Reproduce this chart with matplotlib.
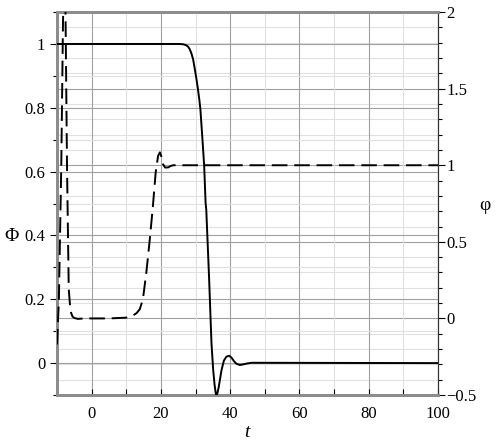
import matplotlib
matplotlib.use("Agg")
import matplotlib.pyplot as plt
from matplotlib.ticker import MultipleLocator, FuncFormatter
from matplotlib.transforms import blended_transform_factory

# Phi(t), left axis (solid)
t_Phi = [-10, 20, 25.4, 26.5, 27.3, 27.9, 28.3, 28.8, 29.3, 29.8, 30.3, 30.7,
         31.1, 31.4, 32.0, 32.5, 32.9, 33.1, 33.9, 34.6, 35.1, 35.5, 35.8,
         36.0, 36.3, 36.7, 37.5, 38.2, 38.9, 39.7, 40.4, 41.1, 41.8, 42.8,
         43.8, 45.0, 46.2, 100]
Phi = [1, 1, 1, 0.999, 0.996, 0.991, 0.984, 0.971, 0.952, 0.921, 0.888, 0.858,
       0.825, 0.796, 0.701, 0.617, 0.503, 0.481, 0.271, 0.063, -0.022,
       -0.068, -0.092, -0.1, -0.095, -0.075, -0.022, 0.008, 0.02, 0.023,
       0.017, 0.006, -0.002, -0.006, -0.004, -0.001, 0.001, 0]

# phi(t), right axis (dashed)
t_phi = [-10, -9.45, -8.76, -8.3, -7.8, -7.1, -6.6, -6.2, -5.9, -5.5, -5.0,
         -4.0, -2, 5, 10, 11, 12, 13, 13.9, 14.8, 15.8, 16.8, 17.7, 18.5,
         19.2, 19.7, 20.1, 20.6, 21.2, 22.1, 22.8, 23.5, 100]
phi = [-0.17, 0.12, 0.995, 1.87, 2.6, 0.99, 0.19, 0.075, 0.035, 0.012, 0.003,
       -0.003, 0.0, 0.0, 0.005, 0.01, 0.02, 0.035, 0.06, 0.124, 0.30, 0.517,
       0.735, 0.955, 1.062, 1.084, 1.06, 1.008, 0.985, 0.986, 0.995, 1.0,
       1.0]

plt.rcParams['font.family'] = ['Liberation Serif', 'DejaVu Serif']

fig = plt.figure(figsize=(5.02, 4.47), dpi=100)
ax = fig.add_axes([0.1135, 0.1163, 0.759, 0.8567])
ax2 = ax.twinx()
ax.set_zorder(ax2.get_zorder() + 1)
ax.patch.set_visible(False)

ax.set_xlim(-10, 100)
ax.set_ylim(-0.1, 1.1)
ax2.set_ylim(-0.5, 2)

ax.xaxis.set_major_locator(MultipleLocator(20))
ax.xaxis.set_minor_locator(MultipleLocator(10))
ax.yaxis.set_major_locator(MultipleLocator(0.2))
ax.yaxis.set_minor_locator(MultipleLocator(0.1))
ax2.yaxis.set_major_locator(MultipleLocator(0.5))
ax2.yaxis.set_minor_locator(MultipleLocator(0.1))

fmt = FuncFormatter(lambda v, p: ('%g' % round(v, 3)).replace('-', '\u2212'))
ax.xaxis.set_major_formatter(fmt)
ax.yaxis.set_major_formatter(fmt)
ax2.yaxis.set_major_formatter(fmt)

major_c = '#a0a0a0'
minor_c = '#e0e0e0'
for a in (ax, ax2):
    a.grid(True, which='major', color=major_c, lw=0.8)
    a.grid(True, which='minor', color=minor_c, lw=0.8)
ax2.grid(False, axis='x', which='both')

ax.plot(t_Phi, Phi, color='black', lw=1.4, zorder=3)
tr = blended_transform_factory(ax.transData, ax2.transData)
ax.plot(t_phi, phi, color='black', lw=1.4, dashes=(8, 3.5), transform=tr,
        zorder=3)

for a in (ax, ax2):
    for s in ('left', 'bottom', 'top'):
        a.spines[s].set_color('#8c8c8c')
        a.spines[s].set_linewidth(2)
    a.spines['right'].set_color('#333333')
    a.spines['right'].set_linewidth(0.8)

ax.tick_params(axis='x', which='both', direction='in', length=4, width=0.8,
               labelsize=12, pad=8)
ax.tick_params(axis='y', which='major', direction='out', length=5, width=0.8,
               labelsize=12)
ax.tick_params(axis='y', which='minor', direction='out', length=3, width=0.8)
ax2.tick_params(axis='y', which='major', direction='out', length=5, width=0.8,
                labelsize=12, pad=1)
ax2.tick_params(axis='y', which='minor', direction='out', length=3, width=0.8)

ax.text(-0.118, 0.413, '\u03a6', transform=ax.transAxes, fontsize=14,
        ha='center', va='center')
ax.text(1.123, 0.496, '\u03c6', transform=ax.transAxes, fontsize=14,
        ha='center', va='center')
ax.text(0.499, -0.097, 't', transform=ax.transAxes, fontsize=14,
        style='italic', ha='center', va='center')

fig.savefig('out.png', dpi=100)
